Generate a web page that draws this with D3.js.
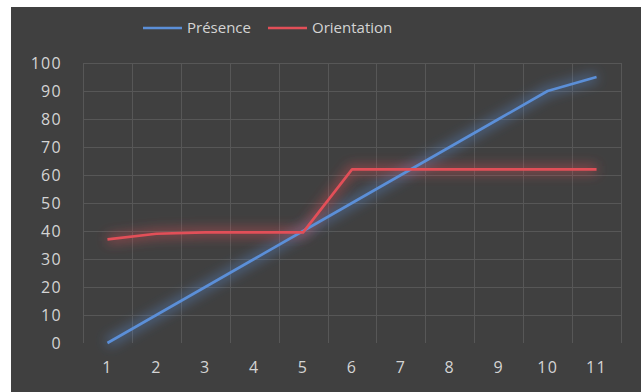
<!DOCTYPE html>
<html>
<head>
<meta charset="utf-8">
<script src="https://cdn.jsdelivr.net/npm/d3@7"></script>
<style>
  html, body { margin: 0; padding: 0; background: #ffffff; }
  svg { display: block; }
</style>
</head>
<body>
<svg id="chart" width="641" height="392"></svg>
<script>
// Series data
const categories = [1, 2, 3, 4, 5, 6, 7, 8, 9, 10, 11];
const presence = [0, 10, 20, 30, 40, 50, 60, 70, 80, 90, 95];
const orientation = [37, 39, 39.5, 39.5, 39.5, 62, 62, 62, 62, 62, 62];
const yTicks = [0, 10, 20, 30, 40, 50, 60, 70, 80, 90, 100];
const seriesNames = ["Présence", "Orientation"];
const seriesColors = ["#5b8fd8", "#e24f58"];

const W = 641, H = 392;
const svg = d3.select("#chart");
const font = "'Open Sans', sans-serif";
const textColor = "#d4d4d4";

// Dark chart panel
svg.append("rect").attr("x", 11).attr("y", 7).attr("width", W - 11).attr("height", H - 7).attr("fill", "#404040");

const plot = { left: 83, right: 621, top: 63, bottom: 343 };

const x = d3.scaleBand().domain(categories).range([plot.left, plot.right]).padding(0);
const y = d3.scaleLinear().domain([0, 100]).range([plot.bottom, plot.top]);

// Glow filters
const defs = svg.append("defs");
seriesColors.forEach((c, i) => {
  const f = defs.append("filter").attr("id", "glow" + i)
    .attr("x", "-10%").attr("y", "-40%").attr("width", "120%").attr("height", "180%");
  f.append("feGaussianBlur").attr("in", "SourceGraphic").attr("stdDeviation", 6);
});

// Gridlines
const grid = svg.append("g").attr("stroke", "#575757").attr("stroke-width", 1);
yTicks.filter(t => t > 0).forEach(t => {
  grid.append("line").attr("x1", plot.left).attr("x2", plot.right)
    .attr("y1", Math.round(y(t)) + 0.5).attr("y2", Math.round(y(t)) + 0.5);
});
const bounds = categories.map(c => x(c)).concat([x(categories[categories.length - 1]) + x.bandwidth()]);
bounds.forEach(b => {
  grid.append("line").attr("x1", Math.round(b) + 0.5).attr("x2", Math.round(b) + 0.5)
    .attr("y1", plot.top).attr("y2", plot.bottom);
});

// Y axis labels
const yAxis = d3.axisLeft(y).tickValues(yTicks).tickSize(0).tickPadding(21);
const gy = svg.append("g").attr("transform", `translate(${plot.left},0)`).call(yAxis);
gy.select(".domain").remove();
gy.selectAll("text").attr("fill", textColor).style("font-family", font)
  .style("font-size", "16px").style("letter-spacing", "1.3px");

// X axis labels
const xAxis = d3.axisBottom(x).tickSize(0).tickPadding(19);
const gx = svg.append("g").attr("transform", `translate(0,${plot.bottom})`).call(xAxis);
gx.select(".domain").remove();
gx.selectAll("text").attr("fill", textColor).style("font-family", font)
  .style("font-size", "16px").style("letter-spacing", "1.3px");

// Lines with a soft glow underneath
const line = d3.line().x((d, i) => x(categories[i]) + x.bandwidth() / 2).y(d => y(d));
[presence, orientation].forEach((s, i) => {
  svg.append("path").datum(s).attr("d", line).attr("fill", "none")
    .attr("stroke", seriesColors[i]).attr("stroke-width", 9).attr("stroke-opacity", 0.45)
    .attr("filter", `url(#glow${i})`);
});
[presence, orientation].forEach((s, i) => {
  svg.append("path").datum(s).attr("d", line).attr("fill", "none")
    .attr("stroke", seriesColors[i]).attr("stroke-width", 2.6).attr("stroke-linejoin", "round");
});

// Legend
const legend = svg.append("g").attr("transform", "translate(0,28)");
const legendItems = [{ x0: 143, x1: 182, tx: 187 }, { x0: 268, x1: 307, tx: 312 }];
seriesNames.forEach((n, i) => {
  const it = legendItems[i];
  legend.append("line").attr("x1", it.x0).attr("x2", it.x1).attr("y1", 0).attr("y2", 0)
    .attr("stroke", seriesColors[i]).attr("stroke-width", 2.6);
  legend.append("text").attr("x", it.tx).attr("y", 0).attr("dy", "0.35em")
    .attr("fill", textColor).style("font-family", font).style("font-size", "15px").text(n);
});
</script>
</body>
</html>
